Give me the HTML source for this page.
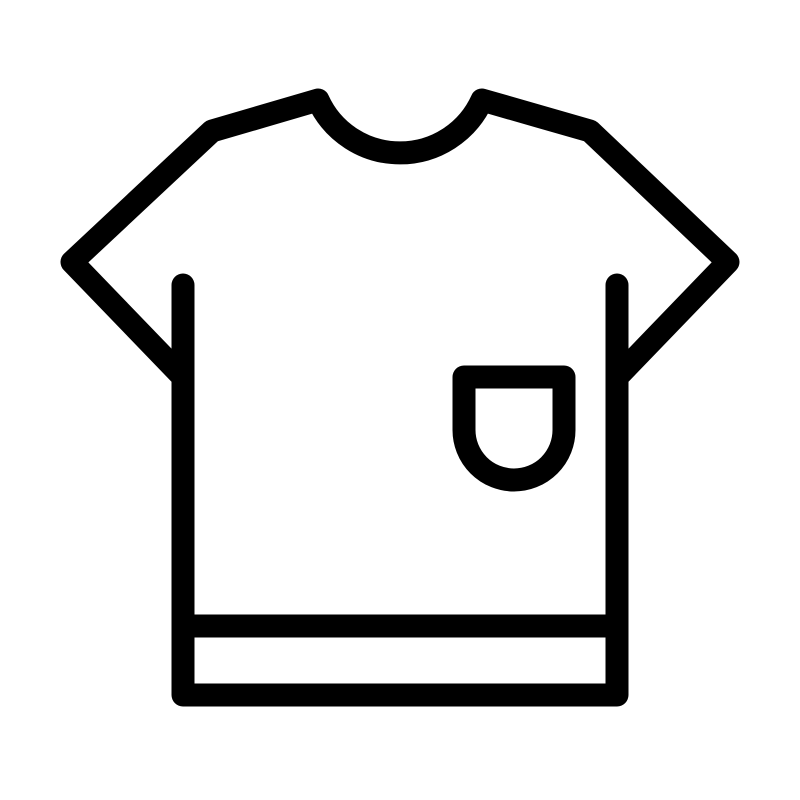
<!DOCTYPE html>
<html><head><style>html,body{margin:0;padding:0;background:#fff;}svg{display:block}</style></head>
<body>
<svg width="800" height="800" viewBox="0 0 800 800" xmlns="http://www.w3.org/2000/svg">
<rect width="800" height="800" fill="#fff"/>
<g fill="none" stroke="#000" stroke-width="23" stroke-linecap="round" stroke-linejoin="round">
<path d="M180,374 L72,262 L212,131 L318,100 A90,90 0 0 0 482,100 L590,131 L728,262 L620,374"/>
<path d="M183,285 L183,695 L617,695 L617,285"/>
<path d="M183,626 L617,626"/>
<path d="M464,377 L564,377 L564,430 A50,50 0 0 1 464,430 Z"/>
</g>
</svg>
</body></html>
